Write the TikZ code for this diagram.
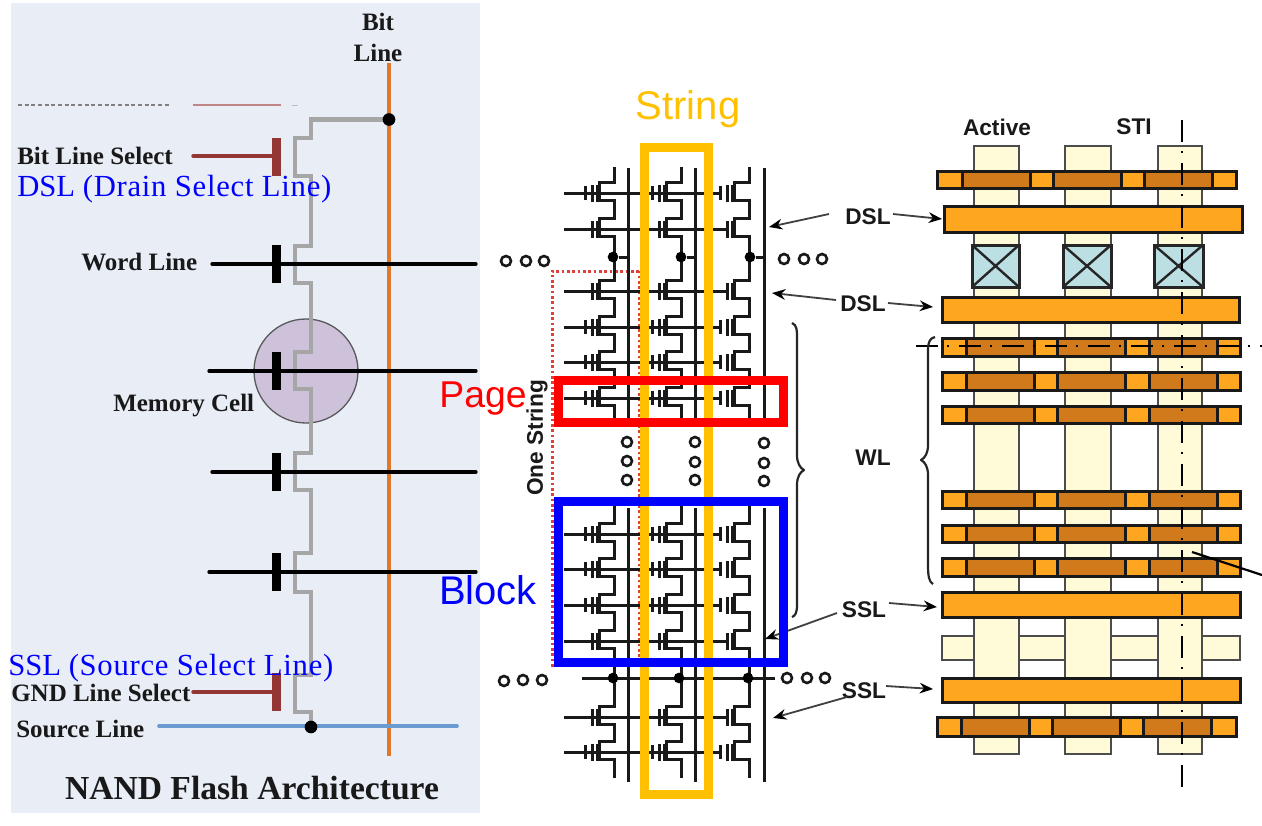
\documentclass[tikz,border=0pt]{standalone}
\usepackage{fontspec}
\usetikzlibrary{arrows.meta}
\setmainfont{Liberation Serif}
\newfontfamily\arialf{Liberation Sans}
\newfontfamily\widef[LetterSpace=2.4]{Liberation Serif}
\definecolor{panelbg}{HTML}{E8EDF6}
\definecolor{bitorange}{HTML}{E0782C}
\definecolor{chgray}{HTML}{A6A6A6}
\definecolor{selbrown}{HTML}{943634}
\definecolor{srcblue}{HTML}{6A9BD0}
\definecolor{cellpurple}{HTML}{CDC2DA}
\definecolor{stringyellow}{HTML}{FFC000}
\definecolor{activeyellow}{HTML}{FFFBD8}
\definecolor{polyorange}{HTML}{FFA621}
\definecolor{polydark}{HTML}{D17A1C}
\definecolor{contactblue}{HTML}{BCDFE4}
\definecolor{dotred}{HTML}{E0403A}
\tikzset{
  px/.style={line width=#1*0.75pt},
  serifb/.style={font=\fontsize{18.75pt}{20pt}\selectfont\bfseries, text=black!90, inner sep=0pt},
  bluelbl/.style={font=\fontsize{23pt}{24pt}\selectfont, text=blue, inner sep=0pt, anchor=west},
  arialb/.style={font=\arialf\fontsize{17pt}{18pt}\selectfont\bfseries, text=black!90, inner sep=0pt},
  biglbl/.style={font=\arialf\fontsize{30pt}{30pt}\selectfont, inner sep=0pt},
  wline/.style={px=3.3, line cap=round, black},
  selline/.style={px=3.4, line cap=round, selbrown},
  chan/.style={px=4.6, chgray, line join=miter},
  bigdot/.style={circle, fill=black, minimum size=9.5pt, inner sep=0pt},
  ckt/.style={px=3, black!90, line join=miter},
  hollow/.style={circle, draw=black!90, px=2.6, minimum size=7.5pt, inner sep=0pt, fill=white},
  sdot/.style={circle, fill=black, minimum size=8pt, inner sep=0pt},
  thinarrow/.style={px=1.8, black!75, -{Stealth[length=10pt,width=8pt,black]}},
  activefill/.style={fill=activeyellow, draw=black!70, px=1.8},
  polybar/.style={fill=polyorange, draw=black!90, px=3},
  polyseg/.style={fill=polydark, draw=black!90, px=3},
  contact/.style={fill=contactblue, draw=black!85, px=3},
  brace/.style={px=2.2, black!85, line join=round},
  centreline/.style={px=2.6, black, dash pattern=on 16.5pt off 6.75pt on 1.5pt off 7.5pt},
  boxline/.style={px=9, line join=miter},
}
\newcommand{\ThreeGate}[2]{%
  \fill (#1-30.5,#2-7) rectangle (#1-27.5,#2+7);
  \fill (#1-24,#2-8.5) rectangle (#1-21,#2+8.5);
  \fill (#1-19,#2-8.5) rectangle (#1-16.5,#2+8.5);}
\newcommand{\TwoGate}[2]{%
  \fill (#1-24,#2-8.5) rectangle (#1-21,#2+8.5);
  \fill (#1-19,#2-8.5) rectangle (#1-16.5,#2+8.5);}
\newcommand{\ChanCell}[2]{%
  \draw[ckt] (#1,#2-18) -- (#1,#2-11) -- (#1-15,#2-11) -- (#1-15,#2+7) -- (#1,#2+7) -- (#1,#2+18);}
\begin{document}
\begin{tikzpicture}[x=0.75pt,y=-0.75pt]
\useasboundingbox (0,0) rectangle (1262,825);
\fill[white] (0,0) rectangle (1262,825);

% ---------- left panel
\fill[panelbg] (11,3) rectangle (480,813);
\draw[px=1.2, black!50, densely dashed] (18,105) -- (170,105);
\draw[px=1.2, selbrown!60] (193,105) -- (281,105);
\draw[px=1, black!25] (292,105) -- (298,105);
\node[circle, fill=cellpurple, draw=black!65, px=1.3, minimum size=78pt, inner sep=0pt] (mc) at (306,371) {};
\coordinate (bltop) at (389,63);
\coordinate (blbot) at (389,756);
\draw[px=4.3, bitorange] (bltop) -- (blbot);
\coordinate (blj) at (389,119.5);
\coordinate (slj) at (311,727);
\draw[chan] (blj) -- (311,119.5) -- (311,138) -- (295,138) -- (295,176) -- (311,176) -- (311,246) -- (295,246) -- (295,283) -- (311,283)
  -- (311,352) -- (295,352) -- (295,389) -- (311,389) -- (311,453) -- (295,453) -- (295,490) -- (311,490)
  -- (311,553) -- (295,553) -- (295,592) -- (311,592) -- (311,675) -- (295,675) -- (295,712) -- (311,712) -- (slj);
\draw[wline] (212,264) -- (476,264);
\draw[wline] (209,371) -- (476,371);
\draw[wline] (212,472) -- (476,472);
\draw[wline] (209,572) -- (476,572);
\foreach \t/\b in {245/283,352/390,453/491,553/591} \fill[black] (272,\t) rectangle (281,\b);
\draw[selline] (193,156) -- (276,156);
\fill[selbrown] (272,138) rectangle (281,176);
\draw[selline] (193,692) -- (276,692);
\fill[selbrown] (272,673) rectangle (281,711);
\draw[px=3.6, srcblue, line cap=round] (159,726) -- (457,726);
\node[bigdot] (dbl) at (blj) {};
\node[bigdot] (dsl) at (311,727) {};

\node[serifb] (tbit) at (378,22) {Bit};
\node[serifb] (tline) at (378,53) {Line};
\node[serifb, anchor=west] (tbls) at (17,156) {Bit Line Select};
\node[serifb, anchor=west] (twl) at (81,262) {Word Line};
\node[serifb, anchor=west] (tmc) at (113,406) {Memory Cell};
\node[serifb, anchor=west] (tgnd) at (11,693) {GND Line Select};
\node[serifb, anchor=west] (tsrc) at (16,729) {Source Line};
\node[serifb, font=\fontsize{25.2pt}{26pt}\selectfont\bfseries] (ttitle) at (252,788) {NAND Flash Architecture};
\node[bluelbl] (tdsl) at (17,189) {DSL {\widef (Drain Select Line)}};
\node[bluelbl] (tssl) at (8,668) {SSL {\widef (Source Select Line)}};

% ---------- centre schematic
\fill[white] (480,0) rectangle (930,825);
\draw[px=3, dotred, dash pattern=on 2pt off 2pt] (639,271) -- (552,271) -- (552,665) -- (639,665) -- cycle;
\begin{scope}[black!90]
\foreach \bx in {628,695,764} {
  \draw[ckt] (\bx,168) -- (\bx,418);
  \draw[ckt] (\bx,508) -- (\bx,782);
}
\foreach \cx in {614.5,681.5,749.5} {
  \foreach \y in {193,229,291,327,362,398,534,569,605,641,717,752} { \ChanCell{\cx}{\y} }
  \draw[ckt] (\cx,167) -- (\cx,176);
  \draw[ckt] (\cx,246) -- (\cx,274);
  \draw[ckt] (\cx,415) -- (\cx,418);
  \draw[ckt] (\cx,506) -- (\cx,517);
  \draw[ckt] (\cx,658) -- (\cx,700);
  \draw[ckt] (\cx,769) -- (\cx,778);
}
\foreach \y in {193,327,362,398,534,569,605,752} {
  \draw[ckt] (564,\y) -- (720,\y);
  \foreach \cx in {614.5,681.5,749.5} { \ThreeGate{\cx}{\y} }
}
\foreach \y in {229,291,641,717} {
  \draw[ckt] (564,\y) -- (727,\y);
  \foreach \cx in {614.5,681.5,749.5} { \TwoGate{\cx}{\y} }
}
\end{scope}
\draw[ckt] (582,678) -- (775,678);
\foreach \n/\cx/\bx in {a/613/628,b/681/695,c/750/764} {
  \node[sdot] (jt\n) at (\cx,257) {};
  \coordinate (jb\n) at (\bx,257);
  \draw[ckt] (jt\n) -- (jb\n);
}
\node[sdot] (jd1) at (613,678) {};
\node[sdot] (jd2) at (679,678) {};
\node[sdot] (jd3) at (748,678) {};
\foreach \n/\x/\y in {h1/506/261,h2/526/261,h3/544/261,h4/784/259,h5/804/259,h6/822/259,
  h7/504/681,h8/523/680,h9/542/680,h10/787/678,h11/807/678,h12/825/678,
  v1/627/442,v2/627/461,v3/627/480,v4/695/442,v5/695/462,v6/695/480,v7/764/443,v8/764/463,v9/764/481} {
  \node[hollow] (\n) at (\x,\y) {};
}
\node[arialb, rotate=90] (tone) at (537,438) {One String};
\draw[brace] (792,323) .. controls (797,325) and (797,330) .. (797,340) -- (797,455) .. controls (797,463) and (800,468) .. (804,470)
  .. controls (800,472) and (797,477) .. (797,485) -- (797,605) .. controls (797,613) and (795,616) .. (792,617);

% ---------- right layout
\fill[activefill] (942,636) rectangle (1240,660);
\foreach \l/\r in {974/1019,1065/1111,1158/1202} {
  \fill[activefill] (\l,146) rectangle (\r,754);
  \draw[black!70,px=1.8] (\l,146) rectangle (\r,754);
}
\draw[polybar] (937,171) rectangle (1236,188);
\foreach \s in {962,1053,1144} \draw[polyseg] (\s,171) rectangle ++(68,17);
\draw[polybar] (944,206) rectangle (1242,232);
\foreach \l/\r in {972/1019,1063/1111,1154/1203} {
  \draw[contact] (\l,245) rectangle (\r,287);
  \draw[px=2.4,black!85] (\l,245) -- (\r,287) (\l,287) -- (\r,245);
}
\draw[polybar] (942,297) rectangle (1239,322);
\foreach \t/\b in {338/356,372/390,406/423,491/508,525/542,558/576} {
  \draw[polybar] (942,\t) rectangle (1240,\b);
  \foreach \s in {966,1057,1149} \draw[polyseg] (\s,\t) rectangle (\s+68,\b);
}
\draw[polybar] (942,592) rectangle (1240,617);
\draw[polybar] (942,678) rectangle (1240,702);
\draw[polybar] (937,717) rectangle (1236,736);
\foreach \s in {961,1052,1143} \draw[polyseg] (\s,717) rectangle ++(68,19);
\draw[centreline] (1182,120) -- (1182,790);
\draw[centreline] (916,346) -- (1262,346);
\draw[px=2.2, black] (1192,552) -- (1262,575);
\draw[brace] (935,337) .. controls (930,338) and (928,342) .. (928,350) -- (928,445) .. controls (928,453) and (925,458) .. (921,460)
  .. controls (925,462) and (928,467) .. (928,475) -- (928,565) .. controls (928,576) and (929,582) .. (933,584);

\node[arialb] (lactive) at (997,127) {Active};
\node[arialb] (lsti) at (1134,127) {STI};
\node[arialb] (lwl) at (873,458) {WL};
\node[arialb] (ldsla) at (868,217) {DSL};
\node[arialb] (ldslb) at (863,304) {DSL};
\node[arialb] (lssla) at (864,610) {SSL};
\node[arialb] (lsslb) at (864,691) {SSL};
\coordinate (ta1) at (829,214); \coordinate (ta2) at (769,227);
\coordinate (ta3) at (893,214); \coordinate (ta4) at (942,219);
\coordinate (tb1) at (836,300); \coordinate (tb2) at (772,293);
\coordinate (tb3) at (888,303); \coordinate (tb4) at (933,307);
\coordinate (tc1) at (889,603); \coordinate (tc2) at (937,607);
\coordinate (tc3) at (837,613); \coordinate (tc4) at (765,639);
\coordinate (td1) at (886,686); \coordinate (td2) at (933,689);
\coordinate (td3) at (847,697); \coordinate (td4) at (773,718);
\draw[thinarrow] (ta1) -- (ta2);
\draw[thinarrow] (ta3) -- (ta4);
\draw[thinarrow] (tb1) -- (tb2);
\draw[thinarrow] (tb3) -- (tb4);
\draw[thinarrow] (tc1) -- (tc2);
\draw[thinarrow] (tc3) -- (tc4);
\draw[thinarrow] (td1) -- (td2);
\draw[thinarrow] (td3) -- (td4);

% ---------- overlay boxes and captions
\draw[boxline, stringyellow] (644.5,147) rectangle (708,794.5);
\draw[boxline, red] (558.5,380.5) rectangle (783.5,422);
\draw[boxline, blue] (558.5,501.7) rectangle (783.5,662.3);
\node[biglbl, text=stringyellow] (lstring) at (688,109) {String};
\node[biglbl, text=red, font=\arialf\fontsize{28pt}{30pt}\selectfont] (lpage) at (483,399) {Page};
\node[biglbl, text=blue] (lblock) at (488,590) {Block};
\end{tikzpicture}
\end{document}
